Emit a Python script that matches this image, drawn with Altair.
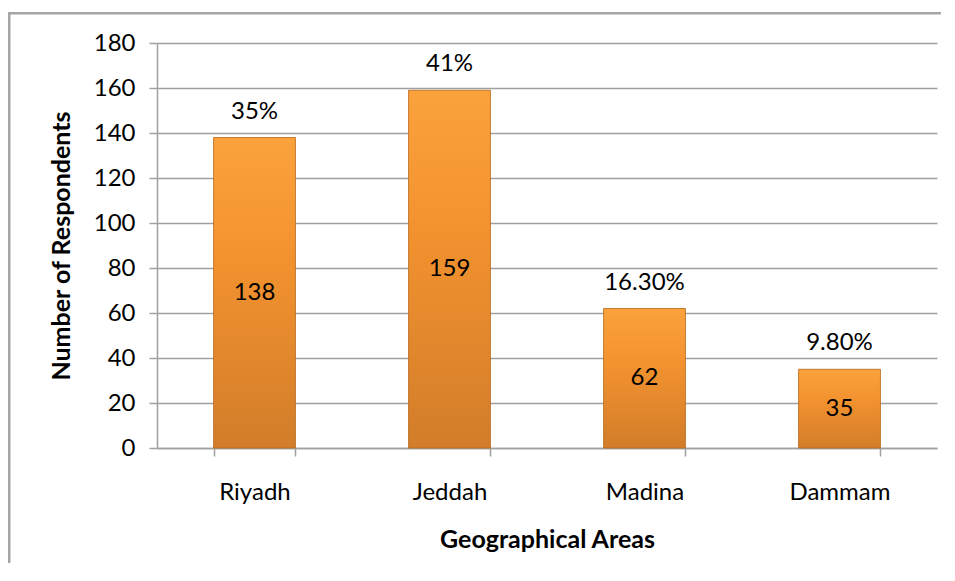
import altair as alt
import pandas as pd

areas = ["Riyadh", "Jeddah", "Madina", "Dammam"]
counts = [138, 159, 62, 35]
percents = ["35%", "41%", "16.30%", "9.80%"]

df = pd.DataFrame({"area": areas, "count": counts, "pct": percents})

FONT = "Lato"
GRID = "#A0A0A0"
FS = 24

base = alt.Chart(df)

xenc = alt.X("area:N", sort=areas,
             scale=alt.Scale(paddingInner=0.58, paddingOuter=0.29),
             axis=alt.Axis(title="Geographical Areas", labelAngle=0, tickBand="extent",
                           labelFontSize=FS, labelPadding=24, tickSize=8,
                           titleFontSize=25, titleFontWeight="bold", titlePadding=23,
                           domainColor=GRID, tickColor=GRID, domainWidth=1.5, tickWidth=1.5,
                           labelColor="#000000", titleColor="#000000"))

bars = base.mark_bar(
    stroke="#B8671C", strokeWidth=0.8,
    color=alt.Gradient(
        gradient="linear",
        stops=[alt.GradientStop(color="#FBA23C", offset=0),
               alt.GradientStop(color="#F2922F", offset=0.4),
               alt.GradientStop(color="#D27D2A", offset=1)],
        x1=0, x2=0, y1=0, y2=1)
).encode(
    x=xenc,
    y=alt.Y("count:Q", scale=alt.Scale(domain=[0, 180]),
            axis=alt.Axis(title="Number of Respondents", values=list(range(0, 181, 20)),
                          grid=True, gridColor=GRID, gridWidth=1.5,
                          labelFontSize=FS, labelPadding=14, tickSize=8,
                          titleFontSize=25, titleFontWeight="bold", titlePadding=19,
                          domainColor=GRID, tickColor=GRID, domainWidth=1.5, tickWidth=1.5,
                          labelColor="#000000", titleColor="#000000"))
)

pct = base.mark_text(baseline="bottom", dy=-14, fontSize=FS, font=FONT, color="#000000").encode(
    x=alt.X("area:N", sort=areas), y="count:Q", text="pct:N")

inner = base.transform_calculate(mid="datum.count / 2").mark_text(
    baseline="middle", fontSize=FS, font=FONT, color="#000000").encode(
    x=alt.X("area:N", sort=areas), y="mid:Q", text="count:Q")

one = pd.DataFrame({"a": [0]})
top_line = alt.Chart(one).mark_rect(fill="#A6A6A6", strokeWidth=0).encode(
    x=alt.value(-149), x2=alt.value(784), y=alt.value(-31), y2=alt.value(-28.5))
left_line = alt.Chart(one).mark_rect(fill="#A6A6A6", strokeWidth=0).encode(
    x=alt.value(-149), x2=alt.value(-146.5), y=alt.value(-31), y2=alt.value(520))

chart = alt.layer(top_line, left_line, bars, pct, inner).properties(
    width=780, height=405,
    autosize=alt.AutoSizeParams(type="none"),
    padding={"left": 149, "top": 35, "right": 10, "bottom": 118},
).configure(font=FONT).configure_view(stroke=None)

chart.save("out.html", embed_options={"renderer": "svg", "actions": False})
